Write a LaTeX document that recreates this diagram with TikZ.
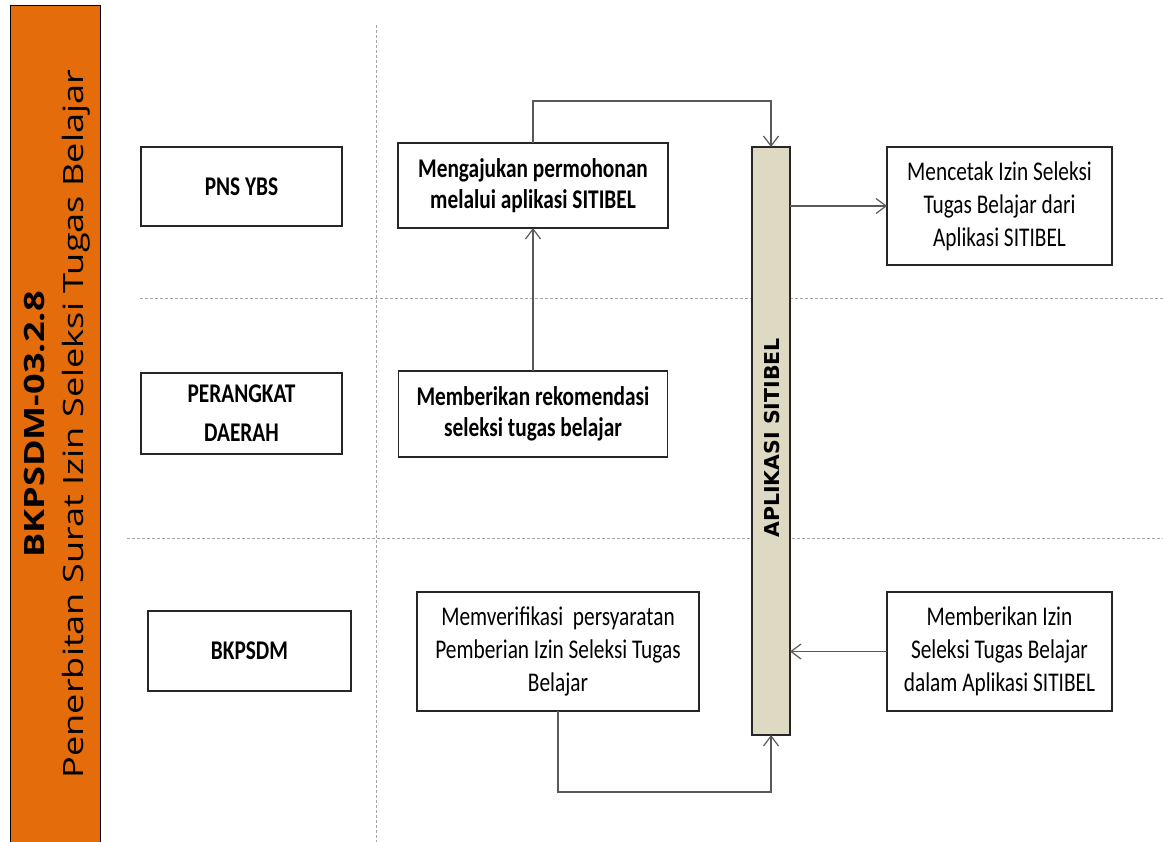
\documentclass[tikz,border=0pt]{standalone}
\usepackage{fontspec}
\usetikzlibrary{arrows.meta}
\newfontfamily\boxfont[FakeStretch=0.79]{Carlito}
\newfontfamily\titlefont[FakeStretch=1.29]{Open Sans}
\newfontfamily\barfont{DejaVu Sans}
\definecolor{orangebar}{HTML}{E46C0A}
\definecolor{tanbar}{HTML}{DDD9C3}
\definecolor{connc}{HTML}{595959}
\definecolor{dashc}{HTML}{A6A6A6}
\definecolor{edgec}{HTML}{262626}
\tikzset{
  every node/.style={inner sep=0pt, outer sep=0pt},
  box/.style={draw=edgec, line width=1.3pt, fill=white, align=center, text=black},
  bolds/.style={font=\boxfont\bfseries\fontsize{27}{31}\selectfont},
  regs/.style={font=\boxfont\fontsize{27}{33}\selectfont},
  conn/.style={draw=connc, line width=1.3pt, -{Straight Barb[length=10pt,width=15pt,line width=1.2pt]}},
  lane/.style={draw=dashc, line width=1pt, dash pattern=on 3pt off 2pt},
}
\begin{document}
\begin{tikzpicture}[x=1pt,y=-1pt]
\useasboundingbox (0,0) rectangle (1163,842);
\fill[white] (0,0) rectangle (1163,842);
% title bar
\draw[fill=orangebar, draw=black, line width=1pt] (10,6) rectangle (100,846);
\node[rotate=90, anchor=base, font=\titlefont\bfseries\fontsize{28}{34}\selectfont] (code) at (45,424.5) {BKPSDM-03.2.8};
\node[rotate=90, anchor=base, font=\titlefont\fontsize{28}{34}\selectfont] (title) at (83,424) {Penerbitan Surat Izin Seleksi Tugas Belajar};
% lanes
\draw[lane] (376,25) -- (376,842);
\draw[lane] (140,299) -- (1163,299);
\draw[lane] (127,538) -- (1163,538);
% actors
\node[box, bolds, minimum width=201pt, minimum height=79pt] (pns) at (241.5,186.5) {PNS YBS};
\node[box, font=\boxfont\bfseries\fontsize{27}{39}\selectfont, minimum width=201pt, minimum height=81pt] (pd) at (241.5,413.5) {PERANGKAT\\DAERAH};
\node[box, bolds, minimum width=203pt, minimum height=80pt] (bk) at (249.5,651) {BKPSDM};
% process boxes
\node[box, bolds, minimum width=270pt, minimum height=85pt] (ma) at (533,185.5) {Mengajukan permohonan\\melalui aplikasi SITIBEL};
\node[box, bolds, minimum width=269pt, minimum height=86pt] (rk) at (533,414) {Memberikan rekomendasi\\seleksi tugas belajar};
\node[box, regs, minimum width=282pt, minimum height=119pt] (mv) at (558,651.5) {Memverifikasi\ \ persyaratan\\Pemberian Izin Seleksi Tugas\\Belajar};
\node[box, regs, minimum width=225pt, minimum height=118pt] (mc) at (999.5,206) {Mencetak Izin Seleksi\\Tugas Belajar dari\\Aplikasi SITIBEL};
\node[box, regs, minimum width=225pt, minimum height=119pt] (mi) at (999.5,651.5) {Memberikan Izin\\Seleksi Tugas Belajar\\dalam Aplikasi SITIBEL};
% application bar
\node[draw=edgec, line width=1.3pt, fill=tanbar, minimum width=38pt, minimum height=588pt] (bar) at (771,441) {};
\node[rotate=90, font=\barfont\bfseries\fontsize{20.5}{24}\selectfont] (bartxt) at (772,438) {APLIKASI SITIBEL};
% connectors
\draw[conn] (ma.north) -- ++(0,-42) -| (bar.north);
\draw[conn] (rk.north) -- (ma.south);
\draw[conn] (bar.east |- mc.west) -- (mc.west);
\draw[conn] (mi.west) -- (bar.east |- mi.west);
\draw[conn] (mv.south) -- ++(0,81) -| (bar.south);
\end{tikzpicture}
\end{document}
